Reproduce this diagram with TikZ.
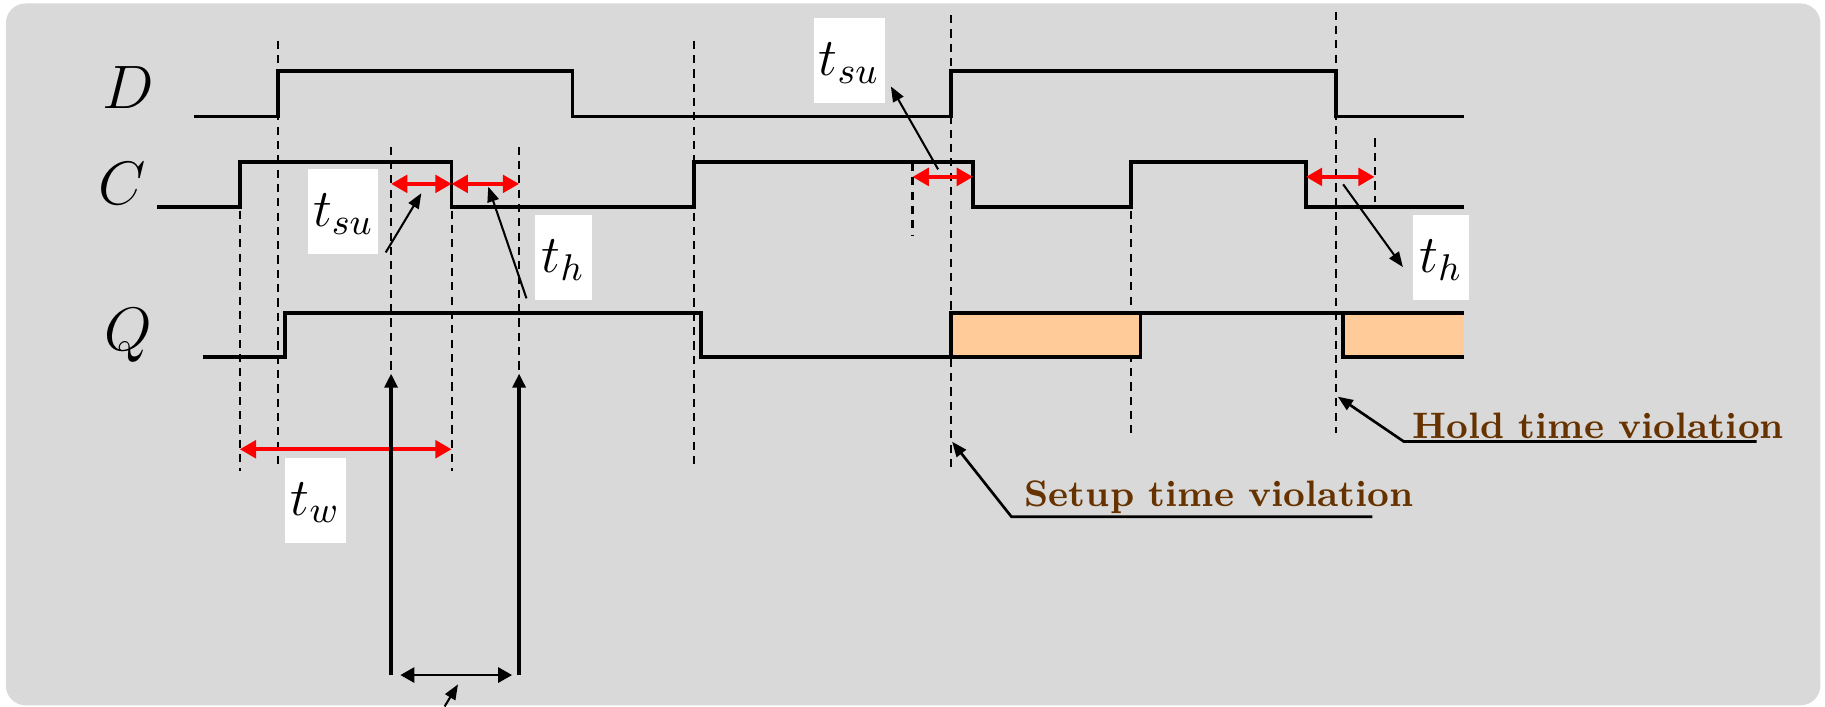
\RequirePackage{fix-cm}
\documentclass[tikz,border=0pt]{standalone}
\usepackage{amsmath}
\usetikzlibrary{arrows.meta}

\definecolor{panel}{RGB}{217,217,217}
\definecolor{glitch}{RGB}{255,204,153}
\definecolor{note}{RGB}{102,51,0}

\tikzset{
  wave/.style={line width=0.9pt},
  guide/.style={line width=0.5pt, dash pattern=on 2pt off 1.5pt},
  redspan/.style={red, line width=1pt, {Triangle[length=1.4mm,width=1.5mm]}-{Triangle[length=1.4mm,width=1.5mm]}},
  ptr/.style={line width=0.5pt, ->},
  sig/.style={anchor=base, inner sep=0pt, font=\fontsize{15}{18}\selectfont},
  tbox/.style={fill=white, inner sep=0pt, text height=4.9mm, text depth=2.4mm, font=\fontsize{13}{15}\selectfont},
  violation/.style={anchor=base west, inner sep=0pt, text=note, font=\fontsize{9}{11}\selectfont\bfseries}
}

\begin{document}
\begin{tikzpicture}[x=0.1mm, y=-0.1mm, >={Triangle[length=1.3mm,width=1mm]}, thick]
  \useasboundingbox (0,0) rectangle (1568,607);
  \fill[panel, rounded corners=1.7mm] (5,3) rectangle (1564,606);

  % signal names
  \node (D) [sig] at (110,93) {$D$};
  \node (C) [sig] at (105,176) {$C$};
  \node (Q) [sig] at (110,301) {$Q$};

  % timing guides
  \foreach \x/\a/\b in {206/181/405, 239/35/402, 336/126/321, 388/181/405, 446/126/321,
                        596/35/402, 784/140/203, 817/13/405, 972/181/372, 1148/10/372, 1181/119/174}
    \draw[guide] (\x,\a) -- (\x,\b);

  % uncertain output
  \fill[glitch] (817,269) rectangle (980,307);
  \fill[glitch] (1154,269) rectangle (1258,307);

  % waveforms
  \draw[wave] (167,100) -- (239,100) -- (239,61) -- (492,61) -- (492,100) -- (817,100)
    -- (817,61) -- (1148,61) -- (1148,100) -- (1258,100);
  \draw[wave] (135,178) -- (206,178) -- (206,139) -- (388,139) -- (388,178) -- (596,178)
    -- (596,139) -- (836,139) -- (836,178) -- (972,178) -- (972,139) -- (1122,139)
    -- (1122,178) -- (1258,178);
  \draw[wave] (174,307) -- (245,307) -- (245,269) -- (602,269) -- (602,307) -- (980,307)
    -- (980,269) -- (1258,269);
  \draw[wave] (817,307) -- (817,269) -- (980,269);
  \draw[wave] (1154,269) -- (1154,307) -- (1258,307);

  % setup / hold / width spans
  \draw[redspan] (336,158) -- (388,158);
  \draw[redspan] (388,158) -- (446,158);
  \draw[redspan] (784,152) -- (836,152);
  \draw[redspan] (1122,152) -- (1181,152);
  \draw[redspan] (206,386) -- (388,386);

  % labels
  \node (tsuA) [tbox, minimum width=6mm] at (295,182) {$t_{su}$};
  \node (thA) [tbox, minimum width=4.85mm] at (484,221.5) {$t_h$};
  \node (tsuB) [tbox, minimum width=6.1mm] at (729.5,52.3) {$t_{su}$};
  \node (thB) [tbox, minimum width=4.85mm] at (1238,221.5) {$t_h$};
  \node (tw) [tbox, minimum width=5.3mm] at (271,430) {$t_w$};

  \coordinate (suA) at (362,166);
  \coordinate (hA) at (419.5,160.4);
  \coordinate (suB) at (806,145.5);
  \coordinate (hB) at (1154,158.4);
  \draw[ptr] ([shift={(5,-3)}]tsuA.south east) -- (suA);
  \draw[ptr] ([shift={(-6,-3)}]thA.south west) -- (hA);
  \draw[ptr] (suB) -- ([shift={(4,22)}]tsuB.east);
  \draw[ptr] (hB) -- ([shift={(-7,8)}]thB.west);

  % violations
  \node (setup) [violation] at (879,435) {Setup time violation};
  \node (hold) [violation] at (1212,377) {Hold time violation};
  \coordinate (suv) at (818,379.5);
  \coordinate (hv) at (1149.4,340.8);
  \draw[ptr, line width=0.65pt] ([shift={(-37,9)}]setup.base east) -- ([shift={(-10,9)}]setup.base west) -- (suv);
  \draw[ptr, line width=0.65pt] ([shift={(-25,2.3)}]hold.base east) -- ([shift={(-6,2.3)}]hold.base west) -- (hv);

  % clock edges and delay
  \draw[line width=0.85pt, -{Triangle[length=1.2mm,width=1.1mm]}] (336,580) -- (336,321);
  \draw[line width=0.85pt, -{Triangle[length=1.2mm,width=1.1mm]}] (446,580) -- (446,321);
  \draw[line width=0.6pt, {Triangle[length=1.2mm,width=1.3mm]}-{Triangle[length=1.2mm,width=1.3mm]}] (344,580) -- (440,580);
  \coordinate (dl) at (393.5,588);
  \draw[ptr] (382,607) -- (dl);
\end{tikzpicture}
\end{document}
